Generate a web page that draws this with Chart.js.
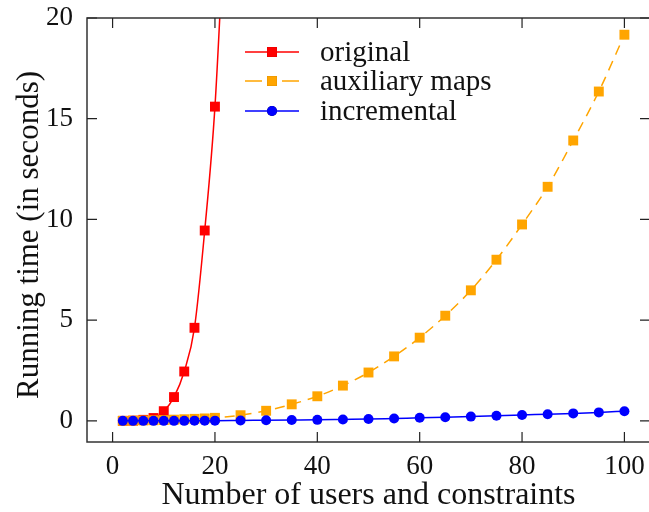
<!DOCTYPE html>
<html lang="en">
<head>
    <meta charset="UTF-8">
    <title>Running time</title>
    <style>
        body {
            margin: 0;
            padding: 0;
            background: white;
            overflow: hidden;
        }
        .chart-container {
            width: 660px;
            height: 512px;
        }
    </style>
    <script src="https://cdn.jsdelivr.net/npm/chart.js"></script>
</head>
<body>
    <div class="chart-container">
        <canvas id="runningTimeChart" width="660" height="512"></canvas>
    </div>

    <script>
    // x values (number of users and constraints)
    const xOriginal = [2, 4, 6, 8, 10, 12, 14, 16, 18, 20, 22];
    const xAll = [2, 4, 6, 8, 10, 12, 14, 16, 18, 20,
                  25, 30, 35, 40, 45, 50, 55, 60, 65, 70, 75, 80, 85, 90, 95, 100];

    // running times in seconds
    const original = [0.0, 0.01, 0.05, 0.14, 0.48, 1.18, 2.45, 4.62, 9.45, 15.6, 25.5];
    const auxiliary = [0.0, 0.01, 0.02, 0.03, 0.04, 0.06, 0.08, 0.1, 0.12, 0.15,
                       0.28, 0.5, 0.82, 1.22, 1.75, 2.4, 3.2, 4.13, 5.22, 6.48, 8.0, 9.75, 11.62, 13.92, 16.35, 19.17];
    const incremental = [0, 0, 0, 0, 0, 0, 0, 0.01, 0.01, 0.01,
                         0.02, 0.03, 0.04, 0.05, 0.07, 0.09, 0.12, 0.15, 0.18, 0.21, 0.25, 0.29, 0.33, 0.37, 0.42, 0.48];

    const xTicks = [0, 20, 40, 60, 80, 100];
    const yTicks = [0, 5, 10, 15, 20];
    const seriesNames = ["original", "auxiliary maps", "incremental"];
    const yTitle = "Running time (in seconds)";

    const serif = "'Liberation Serif', 'Times New Roman', serif";

    function toPoints(xs, ys) {
        return xs.map((x, i) => ({ x: x, y: ys[i] }));
    }

    // frame with inward ticks on all four sides, plus the y axis title
    const framePlugin = {
        id: "frame",
        afterDraw(chart) {
            const ctx = chart.ctx;
            const a = chart.chartArea;
            const xs = chart.scales.x, ys = chart.scales.y;
            const len = 10;
            ctx.save();
            ctx.strokeStyle = "#333";
            ctx.lineWidth = 1.5;
            ctx.strokeRect(a.left, a.top, a.right - a.left, a.bottom - a.top);
            ctx.lineWidth = 1.2;
            ctx.strokeStyle = "#222";
            ctx.beginPath();
            xTicks.forEach(v => {
                const px = xs.getPixelForValue(v);
                ctx.moveTo(px, a.bottom); ctx.lineTo(px, a.bottom - len);
                ctx.moveTo(px, a.top); ctx.lineTo(px, a.top + len);
            });
            yTicks.forEach(v => {
                const py = ys.getPixelForValue(v);
                ctx.moveTo(a.left, py); ctx.lineTo(a.left + len, py);
                ctx.moveTo(a.right, py); ctx.lineTo(a.right - len, py);
            });
            ctx.stroke();

            // y title sits a bit below the middle of the plot, as in the figure
            ctx.translate(38, 235);
            ctx.rotate(-Math.PI / 2);
            ctx.fillStyle = "#111";
            ctx.font = "31px " + serif;
            ctx.textAlign = "center";
            ctx.textBaseline = "alphabetic";
            ctx.fillText(yTitle, 0, 0);
            ctx.restore();
        }
    };

    // legend: short line with marker, then label
    const legendPlugin = {
        id: "lineLegend",
        afterDraw(chart) {
            const ctx = chart.ctx;
            const x0 = 245, x1 = 299, textX = 320;
            const rows = [52, 81, 111];
            ctx.save();
            chart.data.datasets.forEach((ds, i) => {
                const y = rows[i];
                ctx.strokeStyle = ds.borderColor;
                ctx.lineWidth = ds.borderWidth;
                ctx.beginPath();
                if (ds.borderDash) {
                    ctx.moveTo(x0, y); ctx.lineTo(x0 + 17, y);
                    ctx.moveTo(x1 - 17, y); ctx.lineTo(x1, y);
                } else {
                    ctx.moveTo(x0, y); ctx.lineTo(x1, y);
                }
                ctx.stroke();
                Chart.helpers.drawPoint(ctx, {
                    pointStyle: ds.pointStyle,
                    radius: ds.pointRadius,
                    borderWidth: 0,
                    rotation: 0
                }, (x0 + x1) / 2, y);
                ctx.fillStyle = ds.pointBackgroundColor;
                ctx.fill();
                ctx.fillStyle = "#111";
                ctx.font = "29px " + serif;
                ctx.textBaseline = "middle";
                ctx.textAlign = "left";
                ctx.fillText(seriesNames[i], textX, y + 1);
            });
            ctx.restore();
        }
    };

    new Chart(document.getElementById("runningTimeChart"), {
        type: "line",
        data: {
            datasets: [
                {
                    label: seriesNames[0],
                    data: toPoints(xOriginal, original),
                    borderColor: "#ff0000",
                    backgroundColor: "#ff0000",
                    pointBackgroundColor: "#ff0000",
                    pointBorderColor: "#ff0000",
                    pointStyle: "rect",
                    pointRadius: 7,
                    pointBorderWidth: 0,
                    borderWidth: 1.5,
                    cubicInterpolationMode: "monotone",
                    order: 2
                },
                {
                    label: seriesNames[1],
                    data: toPoints(xAll, auxiliary),
                    borderColor: "#ffa500",
                    backgroundColor: "#ffa500",
                    pointBackgroundColor: "#ffa500",
                    pointBorderColor: "#ffa500",
                    pointStyle: "rect",
                    pointRadius: 7,
                    pointBorderWidth: 0,
                    borderWidth: 1.5,
                    borderDash: [10, 7],
                    cubicInterpolationMode: "monotone",
                    order: 1
                },
                {
                    label: seriesNames[2],
                    data: toPoints(xAll, incremental),
                    borderColor: "#0000ff",
                    backgroundColor: "#0000ff",
                    pointBackgroundColor: "#0000ff",
                    pointBorderColor: "#0000ff",
                    pointStyle: "circle",
                    pointRadius: 5,
                    pointBorderWidth: 0,
                    borderWidth: 1.5,
                    cubicInterpolationMode: "monotone",
                    order: 0
                }
            ]
        },
        options: {
            responsive: false,
            animation: false,
            layout: { padding: { top: 18, right: 10, left: 0, bottom: 0 } },
            plugins: {
                legend: { display: false },
                tooltip: { enabled: false }
            },
            scales: {
                x: {
                    type: "linear",
                    min: -5,
                    max: 105,
                    grid: { display: false, drawTicks: false },
                    border: { display: false },
                    afterBuildTicks: s => { s.ticks = xTicks.map(v => ({ value: v })); },
                    afterFit: s => { s.height = 70; s.paddingLeft = 0; s.paddingRight = 0; },
                    ticks: {
                        padding: 9,
                        color: "#111",
                        font: { family: serif, size: 27 }
                    },
                    title: {
                        display: true,
                        text: "Number of users and constraints",
                        color: "#111",
                        font: { family: serif, size: 32, lineHeight: 1.0 },
                        padding: { top: 0, bottom: 0 }
                    }
                },
                y: {
                    min: -1.05,
                    max: 20,
                    grid: { display: false, drawTicks: false },
                    border: { display: false },
                    afterBuildTicks: s => { s.ticks = yTicks.map(v => ({ value: v })); },
                    afterFit: s => { s.width = 87; s.paddingTop = 0; s.paddingBottom = 0; },
                    ticks: {
                        padding: 14,
                        color: "#111",
                        font: { family: serif, size: 27 }
                    }
                }
            }
        },
        plugins: [framePlugin, legendPlugin]
    });
    </script>
</body>
</html>
